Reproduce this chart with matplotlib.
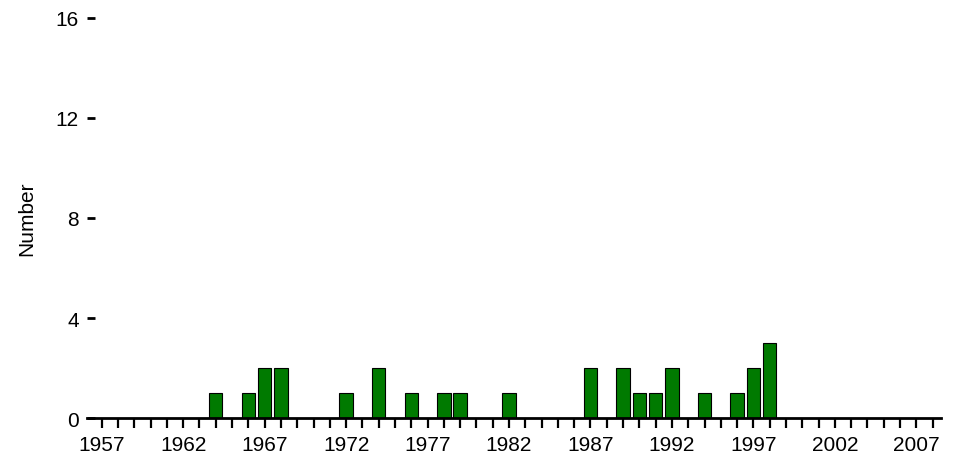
import numpy as np
import matplotlib
matplotlib.use('Agg')
from matplotlib import pyplot as plt
from matplotlib.ticker import FixedLocator

plt.rcParams['font.family'] = ['Liberation Sans', 'DejaVu Sans']

# yearly counts (years with no events are zero)
years = list(range(1957, 2009))
event_years = [1964, 1966, 1967, 1968, 1972, 1974, 1976, 1978, 1979, 1982,
               1987, 1989, 1990, 1991, 1992, 1994, 1996, 1997, 1998]
event_counts = [1, 1, 2, 2, 1, 2, 1, 1, 1, 1,
                2, 2, 1, 1, 2, 1, 1, 2, 3]
counts = [event_counts[event_years.index(y)] if y in event_years else 0 for y in years]
label_years = list(range(1957, 2009, 5))
y_ticks = [0, 4, 8, 12, 16]

fig = plt.figure(figsize=(9.57, 4.6), dpi=100)
ax = fig.add_axes([0.091, 0.089, 0.892, 0.870])

bars_x = [y for y, c in zip(years, counts) if c > 0]
bars_h = [c for c in counts if c > 0]
ax.bar(bars_x, bars_h, width=0.82, color='#007a00', edgecolor='black', linewidth=0.8, zorder=2)

ax.set_xlim(1956.1, 2008.5)
ax.set_ylim(0, 16)

# x axis: a tick every year, a label every fifth year
ax.xaxis.set_major_locator(FixedLocator(years))
ax.set_xticklabels([str(y) if y in label_years else '' for y in years])
ax.tick_params(axis='x', length=7.5, width=1.6, pad=5, labelsize=15, direction='out')

# y axis: no line, just short ticks
ax.spines['left'].set_visible(False)
ax.spines['top'].set_visible(False)
ax.spines['right'].set_visible(False)
ax.spines['bottom'].set_linewidth(2.0)
ax.spines['bottom'].set_zorder(3)
ax.set_yticks(y_ticks)
ax.tick_params(axis='y', length=6, width=2.0, pad=6, labelsize=15, direction='in')
ax.yaxis.set_ticks_position('left')

ax.set_ylabel('Number', fontsize=15, labelpad=14)

plt.savefig('out.png', dpi=100)
plt.close()
